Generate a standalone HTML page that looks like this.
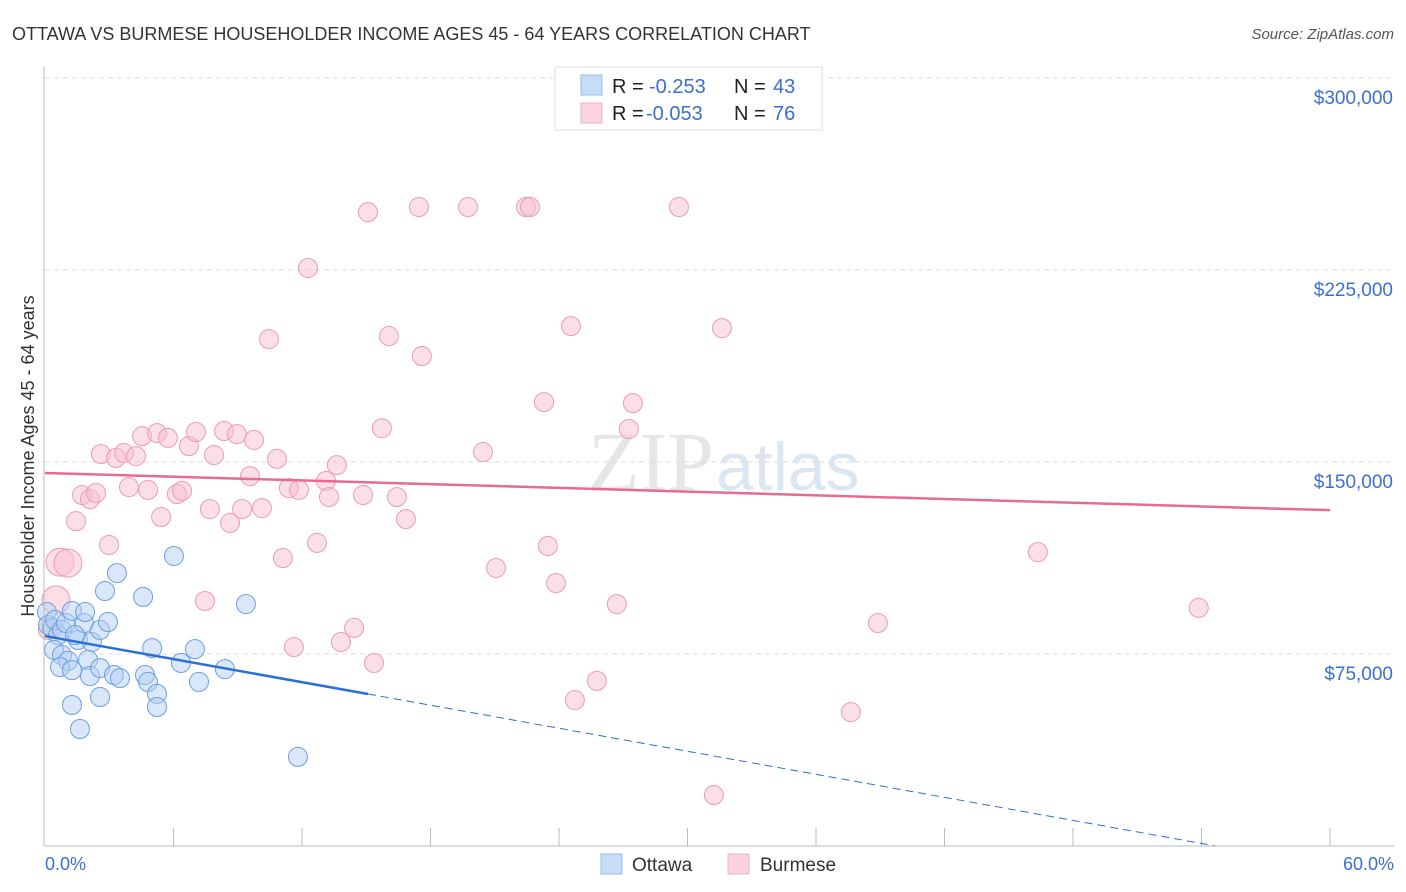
<!DOCTYPE html>
<html><head><meta charset="utf-8"><style>
body{margin:0;background:#fff;font-family:"Liberation Sans",sans-serif}
#wrap{position:relative;width:1406px;height:892px;overflow:hidden}
</style></head><body><div id="wrap">
<svg id="svg" width="1406" height="892">
<text x="12" y="40" font-size="18" fill="#333">OTTAWA VS BURMESE HOUSEHOLDER INCOME AGES 45 - 64 YEARS CORRELATION CHART</text>
<text x="1394" y="39" font-size="15" fill="#555" font-style="italic" text-anchor="end">Source: ZipAtlas.com</text>
<text x="0" y="0" transform="translate(34,456) rotate(-90)" font-size="18" fill="#333" text-anchor="middle">Householder Income Ages 45 - 64 years</text>
<text x="714" y="490" font-size="84" fill="#e6e6e6" text-anchor="end" font-family="Liberation Serif">ZIP</text>
<text x="716" y="490" font-size="68" fill="#dbe6f3">atlas</text>
<g id="grid"></g><g id="marks"></g>
<line x1="44" y1="66" x2="44" y2="846" stroke="#bbb"/>
<line x1="44" y1="846" x2="1394" y2="846" stroke="#bbb"/>
<text x="45" y="870" font-size="18" fill="#3a6fd0">0.0%</text>
<text x="1394" y="870" font-size="18" fill="#3a6fd0" text-anchor="end">60.0%</text>
<g>
<rect x="555" y="67" width="267" height="63" fill="#fff" stroke="#ddd"/>
<rect x="581" y="75" width="21" height="20" fill="#c6dcf7" stroke="#9bbde9"/>
<rect x="581" y="103" width="21" height="20" fill="#fbd3df" stroke="#f2b0c4"/>
<text x="612" y="93" font-size="20" fill="#222">R =</text><text x="649" y="93" font-size="20" fill="#3a6fd0">-0.253</text>
<text x="734" y="93" font-size="20" fill="#222">N =</text><text x="773" y="93" font-size="20" fill="#3a6fd0">43</text>
<text x="612" y="120" font-size="20" fill="#222">R =</text><text x="646" y="120" font-size="20" fill="#3a6fd0">-0.053</text>
<text x="734" y="120" font-size="20" fill="#222">N =</text><text x="773" y="120" font-size="20" fill="#3a6fd0">76</text>
</g>
<g>
<rect x="601" y="854" width="21" height="20" fill="#c6dcf7" stroke="#9bbde9"/>
<text x="632" y="871" font-size="19" fill="#333">Ottawa</text>
<rect x="728" y="854" width="21" height="20" fill="#fbd3df" stroke="#f2b0c4"/>
<text x="760" y="871" font-size="19" fill="#333">Burmese</text>
</g>
</svg></div>
<script>
const yTicks=[75000,150000,225000,300000];
const yTickLabels=["$75,000","$150,000","$225,000","$300,000"];
const ottX=[0.09,0.14,0.33,0.47,0.61,0.79,0.98,1.26,1.54,1.82,2.19,2.57,2.94,0.42,0.79,1.07,0.70,1.26,2.01,2.10,2.57,3.22,3.50,2.57,1.26,1.63,2.80,3.36,4.58,5.00,4.67,4.81,5.23,5.23,6.02,6.35,7.0,7.19,8.4,9.38,11.81,1.87,1.40];
const ottY=[91.4,86.3,85.2,88.3,82.4,84.4,87.1,91.8,80.5,87.1,79.7,84.4,87.5,76.6,74.6,72.3,69.9,68.7,72.7,66.4,69.5,66.8,65.6,58.2,55.1,45.7,99.6,106.6,97.3,77.3,66.8,64.1,59.4,54.3,113.3,71.5,76.9,64.1,69.1,94.5,34.8,91.4,82.4];
const burX=[15.08,17.46,19.75,22.46,22.64,29.6,12.28,24.56,31.61,10.46,16.06,17.6,23.3,27.45,27.26,15.73,20.45,2.61,3.31,3.69,4.25,4.53,5.23,5.74,6.72,7.05,7.89,8.36,8.96,9.76,10.83,9.57,13.63,3.92,4.81,1.73,2.10,2.38,6.16,6.4,11.39,11.86,13.12,13.26,14.85,16.43,7.7,9.2,10.13,5.42,8.64,16.85,1.45,2.99,12.7,11.11,23.48,21.06,23.86,46.36,0.7,1.07,7.47,26.7,53.87,38.89,14.43,13.82,11.62,15.36,25.77,24.74,37.63,31.23,0.51,0.14];
const burY=[247.6,249.6,249.6,249.6,249.6,249.6,225.8,203.1,202.3,198.0,199.2,191.4,173.4,173.0,162.9,163.2,153.9,153.1,151.6,153.5,152.3,160.1,161.3,159.4,156.2,161.7,152.7,162.1,160.9,158.6,151.2,144.5,148.8,140.2,139.1,137.1,135.5,137.9,137.5,138.7,139.8,139.1,142.6,136.3,137.1,136.3,131.6,131.6,132.0,128.5,126.2,127.7,126.9,117.6,118.4,112.5,117.2,108.6,102.7,114.8,110.9,110.5,95.7,94.5,93.0,87.1,85.2,79.7,77.7,71.5,64.5,57.0,52.3,19.9,96.1,84.4];
const ottTrend=[82.0,-1.5];
const burTrend=[145.7,-0.242];
const X=p=>45+p*1285/60, Y=k=>846-k*1000*768/300000;
const NS="http://www.w3.org/2000/svg";
const grid=document.getElementById('grid'),marks=document.getElementById('marks');
function mk(tag,at,par){const e=document.createElementNS(NS,tag);for(const k in at)e.setAttribute(k,at[k]);par.appendChild(e);return e;}
yTicks.forEach((v,i)=>{const y=Y(v/1000);
const l=mk('line',{x1:45,x2:1394,y1:y,y2:y,stroke:'#ddd','stroke-dasharray':'5,4'},grid);


const t=mk('text',{x:1393,y:y+26,'font-size':19,fill:'#3a6fd0','text-anchor':'end'},grid);t.textContent=yTickLabels[i];

});
for(let i=1;i<=10;i++){const x=X(i*6);const t=mk('line',{x1:x,x2:x,y1:828,y2:846,stroke:'#bbb'},grid);

}
function pts(xs,ys,fill,stroke,name){xs.forEach((p,i)=>{const big=(p<1.2&&ys[i]>95&&ys[i]<115&&name==='burmese-point');
const c=mk('circle',{cx:X(p),cy:Y(ys[i]),r:big?14:9.5,fill:fill,'fill-opacity':0.5,stroke:stroke,'stroke-width':1},marks);

});}
pts(burX,burY,'#f7bfd0','#ec9ab4','burmese-point');
pts(ottX,ottY,'#b3cff3','#6b9fe0','ottawa-point');
let l=mk('line',{x1:X(0),y1:Y(burTrend[0]),x2:X(60),y2:Y(burTrend[0]+burTrend[1]*60),stroke:'#e76a92','stroke-width':2.5},marks);


l=mk('line',{x1:X(0),y1:Y(ottTrend[0]),x2:X(15.08),y2:Y(ottTrend[0]+ottTrend[1]*15.08),stroke:'#2a6fd6','stroke-width':2.5},marks);


const xe=-ottTrend[0]/ottTrend[1];
l=mk('line',{x1:X(15.08),y1:Y(ottTrend[0]+ottTrend[1]*15.08),x2:X(xe),y2:Y(0),stroke:'#2a6fd6','stroke-width':1,'stroke-dasharray':'8,5'},marks);


</script></body></html>
